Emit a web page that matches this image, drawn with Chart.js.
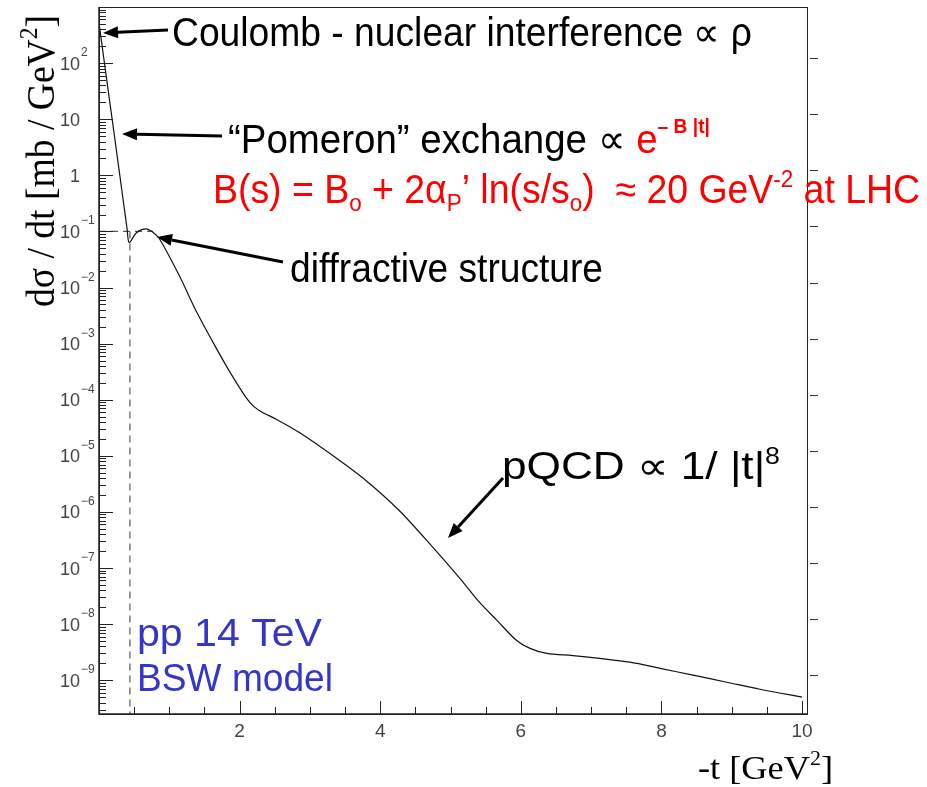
<!DOCTYPE html>
<html>
<head>
<meta charset="utf-8">
<script src="https://cdn.jsdelivr.net/npm/chart.js@4.4.0/dist/chart.umd.min.js"></script>
<style>
  body { margin: 0; background: #fff; }
  canvas { display: block; }
</style>
</head>
<body>
<canvas id="chart" width="927" height="787"></canvas>
<script>
// -t [GeV^2] and dsigma/dt [mb/GeV^2]
const tValues = [0, 0.1, 0.2, 0.3, 0.4, 0.43, 0.53, 0.67, 0.78, 0.86, 1.14, 1.38, 1.61, 1.85,
  2.09, 2.2, 2.32, 2.52, 2.85, 3.32, 3.8, 4.27, 4.74, 5.13, 5.41, 5.66, 5.94, 6.13, 6.37, 6.74,
  7.12, 7.55, 7.98, 8.45, 8.93, 9.4, 10.0];
const sigmaValues = [520, 62, 7.6, 0.92, 0.11, 0.063, 0.094, 0.111, 0.094, 0.074, 0.0165,
  3.85e-3, 1.12e-3, 3.3e-4, 1.1e-4, 7.6e-5, 6.0e-5, 4.5e-5, 2.6e-5, 1.02e-5, 3.6e-6, 1.06e-6,
  2.4e-7, 6.6e-8, 2.46e-8, 1.17e-8, 5.1e-9, 3.7e-9, 3.0e-9, 2.75e-9, 2.45e-9, 2.1e-9,
  1.63e-9, 1.23e-9, 9.2e-10, 6.9e-10, 5.0e-10];

// dashed guide lines at the diffractive dip
const dipT = [0.44, 0.44];
const dipSigma = [0.1, 2.5e-10];
const shelfT = [0, 0.77];
const shelfSigma = [0.1, 0.1];

const xMin = 0;
const xMax = 10.07;
const yMin = 2.5e-10;
const yMax = 1000;

const xTickValues = [2, 4, 6, 8, 10];
const xTickLabels = ["2", "4", "6", "8", "10"];
const yTickValues = [1e2, 1e1, 1, 1e-1, 1e-2, 1e-3, 1e-4, 1e-5, 1e-6, 1e-7, 1e-8, 1e-9];
const yTickBases = ["10", "10", "1", "10", "10", "10", "10", "10", "10", "10", "10", "10"];
const yTickExps = ["2", "", "", "−1", "−2", "−3", "−4", "−5", "−6", "−7", "−8", "−9"];

const SANS = "'Liberation Sans', Arial, sans-serif";
const SERIF = "'Liberation Serif', 'Times New Roman', serif";
const RED = "#ff0000";
const BLUE = "#3535c8";

// draws runs of text squeezed/stretched to a given width
const drawRuns = (ctx, runs, o) => {
  const fontOf = (r) =>
    `${r.bold ? "bold " : ""}${Math.round(o.size * (r.scale || 1))}px ${o.family}`;
  let natural = 0;
  runs.forEach((r) => {
    ctx.font = fontOf(r);
    natural += ctx.measureText(r.text).width;
  });
  ctx.save();
  ctx.translate(o.x, o.y);
  if (o.rotate) ctx.rotate(o.rotate);
  ctx.scale(o.width / natural, 1);
  ctx.textAlign = "left";
  ctx.textBaseline = "alphabetic";
  let cx = 0;
  runs.forEach((r) => {
    ctx.font = fontOf(r);
    ctx.fillStyle = r.color || o.color || "#000";
    ctx.fillText(r.text, cx, (r.dy || 0) * o.size);
    cx += ctx.measureText(r.text).width;
  });
  ctx.restore();
};

const drawArrow = (ctx, x0, y0, x1, y1) => {
  const a = Math.atan2(y1 - y0, x1 - x0);
  const len = 15;
  const half = 6;
  const bx = x1 - len * Math.cos(a);
  const by = y1 - len * Math.sin(a);
  ctx.save();
  ctx.strokeStyle = "#000";
  ctx.fillStyle = "#000";
  ctx.lineWidth = 3;
  ctx.beginPath();
  ctx.moveTo(x0, y0);
  ctx.lineTo(bx, by);
  ctx.stroke();
  ctx.beginPath();
  ctx.moveTo(x1, y1);
  ctx.lineTo(bx + half * Math.sin(a), by - half * Math.cos(a));
  ctx.lineTo(bx - half * Math.sin(a), by + half * Math.cos(a));
  ctx.closePath();
  ctx.fill();
  ctx.restore();
};

const axesPlugin = {
  id: "rootAxes",
  afterDraw(chart) {
    const { ctx, chartArea: area } = chart;
    const xs = chart.scales.x;
    const ys = chart.scales.y;
    ctx.save();

    // frame
    ctx.strokeStyle = "#222";
    ctx.lineWidth = 1;
    ctx.strokeRect(area.left + 0.5, area.top + 0.5, area.right - area.left, area.bottom - area.top);
    ctx.lineWidth = 1.5;
    ctx.beginPath();
    ctx.moveTo(area.left, area.top);
    ctx.lineTo(area.left, area.bottom);
    ctx.lineTo(area.right, area.bottom);
    ctx.stroke();

    // x ticks, pointing into the frame
    ctx.lineWidth = 1;
    for (let v = 0.5; v <= xMax; v += 0.5) {
      const px = Math.round(xs.getPixelForValue(v)) + 0.5;
      const len = v % 2 === 0 ? 13 : 7;
      ctx.beginPath();
      ctx.moveTo(px, area.bottom);
      ctx.lineTo(px, area.bottom - len);
      ctx.stroke();
    }
    ctx.fillStyle = "#444";
    ctx.font = `19px ${SANS}`;
    ctx.textAlign = "center";
    ctx.textBaseline = "alphabetic";
    xTickValues.forEach((v, i) => {
      ctx.fillText(xTickLabels[i], xs.getPixelForValue(v), area.bottom + 23);
    });

    // y ticks: decades and 2..9 minors
    for (let e = -10; e <= 2; e++) {
      for (let k = 1; k <= 9; k++) {
        const v = k * Math.pow(10, e);
        if (v < yMin || v > yMax) continue;
        const py = Math.round(ys.getPixelForValue(v)) + 0.5;
        ctx.beginPath();
        ctx.moveTo(area.left, py);
        ctx.lineTo(area.left + (k === 1 ? 14 : 7), py);
        ctx.stroke();
      }
    }
    // stray ticks outside the right frame
    ctx.strokeStyle = "#333";
    yTickValues.forEach((v) => {
      const py = Math.round(ys.getPixelForValue(v)) - 4.5;
      ctx.beginPath();
      ctx.moveTo(area.right + 3, py);
      ctx.lineTo(area.right + 11, py);
      ctx.stroke();
    });

    // y labels 10^n
    yTickValues.forEach((v, i) => {
      const py = ys.getPixelForValue(v);
      const right = area.left - 19;
      ctx.fillStyle = "#444";
      ctx.textAlign = "right";
      ctx.font = `18px ${SANS}`;
      ctx.fillText(yTickBases[i], right, py + 6.5);
      if (yTickExps[i]) {
        ctx.textAlign = "left";
        ctx.font = `12px ${SANS}`;
        ctx.fillText(yTickExps[i], right + 1, py - 7);
      }
    });

    // axis titles
    drawRuns(ctx, [
      { text: "dσ / dt [mb / GeV" },
      { text: "2", scale: 0.62, dy: -0.42 },
      { text: "]" },
    ], { x: 54, y: 307, width: 292, size: 40, family: SERIF, rotate: -Math.PI / 2 });
    drawRuns(ctx, [
      { text: "-t [GeV" },
      { text: "2", scale: 0.62, dy: -0.42 },
      { text: "]" },
    ], { x: 698, y: 779, width: 135, size: 33, family: SERIF });

    ctx.restore();
  },
};

const notesPlugin = {
  id: "notes",
  afterDraw(chart) {
    const { ctx } = chart;
    drawRuns(ctx, [{ text: "Coulomb - nuclear interference ∝ ρ" }],
      { x: 172, y: 46, width: 580, size: 40, family: SANS });
    drawArrow(ctx, 168, 30, 103, 33);

    drawRuns(ctx, [
      { text: "“Pomeron” exchange ∝ " },
      { text: "e", color: RED },
      { text: "– B |t|", color: RED, bold: true, scale: 0.5, dy: -0.5 },
    ], { x: 228, y: 153, width: 482, size: 40, family: SANS });
    drawArrow(ctx, 222, 136, 122, 134);

    drawRuns(ctx, [
      { text: "B(s) = B" },
      { text: "o", scale: 0.6, dy: 0.2 },
      { text: " + 2α" },
      { text: "P", scale: 0.6, dy: 0.2 },
      { text: "’ ln(s/s" },
      { text: "o", scale: 0.6, dy: 0.2 },
      { text: ")  ≈ 20 GeV" },
      { text: "-2", scale: 0.6, dy: -0.4 },
      { text: " at LHC" },
    ], { x: 213, y: 203, width: 707, size: 40, family: SANS, color: RED });

    drawRuns(ctx, [{ text: "diffractive structure" }],
      { x: 290, y: 282, width: 313, size: 40, family: SANS });
    drawArrow(ctx, 283, 262, 157, 237);

    drawRuns(ctx, [
      { text: "pQCD ∝ 1/ |t|" },
      { text: "8", scale: 0.6, dy: -0.4 },
    ], { x: 502, y: 479, width: 278, size: 38, family: SANS });
    drawArrow(ctx, 503, 478, 448, 538);

    drawRuns(ctx, [{ text: "pp 14 TeV" }],
      { x: 137, y: 646, width: 185, size: 38, family: SANS, color: BLUE });
    drawRuns(ctx, [{ text: "BSW model" }],
      { x: 137, y: 691, width: 196, size: 38, family: SANS, color: BLUE });
  },
};

const toPoints = (xsArr, ysArr) => xsArr.map((x, i) => ({ x, y: ysArr[i] }));

new Chart(document.querySelector("#chart"), {
  type: "line",
  data: {
    datasets: [
      {
        data: toPoints(tValues, sigmaValues),
        borderColor: "#111",
        borderWidth: 1.2,
        pointRadius: 0,
        tension: 0.3,
      },
      {
        data: toPoints(dipT, dipSigma),
        borderColor: "#555",
        borderWidth: 1.2,
        borderDash: [7, 5],
        pointRadius: 0,
      },
      {
        data: toPoints(shelfT, shelfSigma),
        borderColor: "#555",
        borderWidth: 1.2,
        borderDash: [7, 5],
        pointRadius: 0,
      },
    ],
  },
  options: {
    responsive: false,
    animation: false,
    devicePixelRatio: 1,
    layout: { padding: { left: 99, right: 120, top: 7, bottom: 73 } },
    plugins: { legend: { display: false }, tooltip: { enabled: false } },
    scales: {
      x: { type: "linear", min: xMin, max: xMax, display: false },
      y: { type: "logarithmic", min: yMin, max: yMax, display: false },
    },
  },
  plugins: [axesPlugin, notesPlugin],
});
</script>
</body>
</html>
